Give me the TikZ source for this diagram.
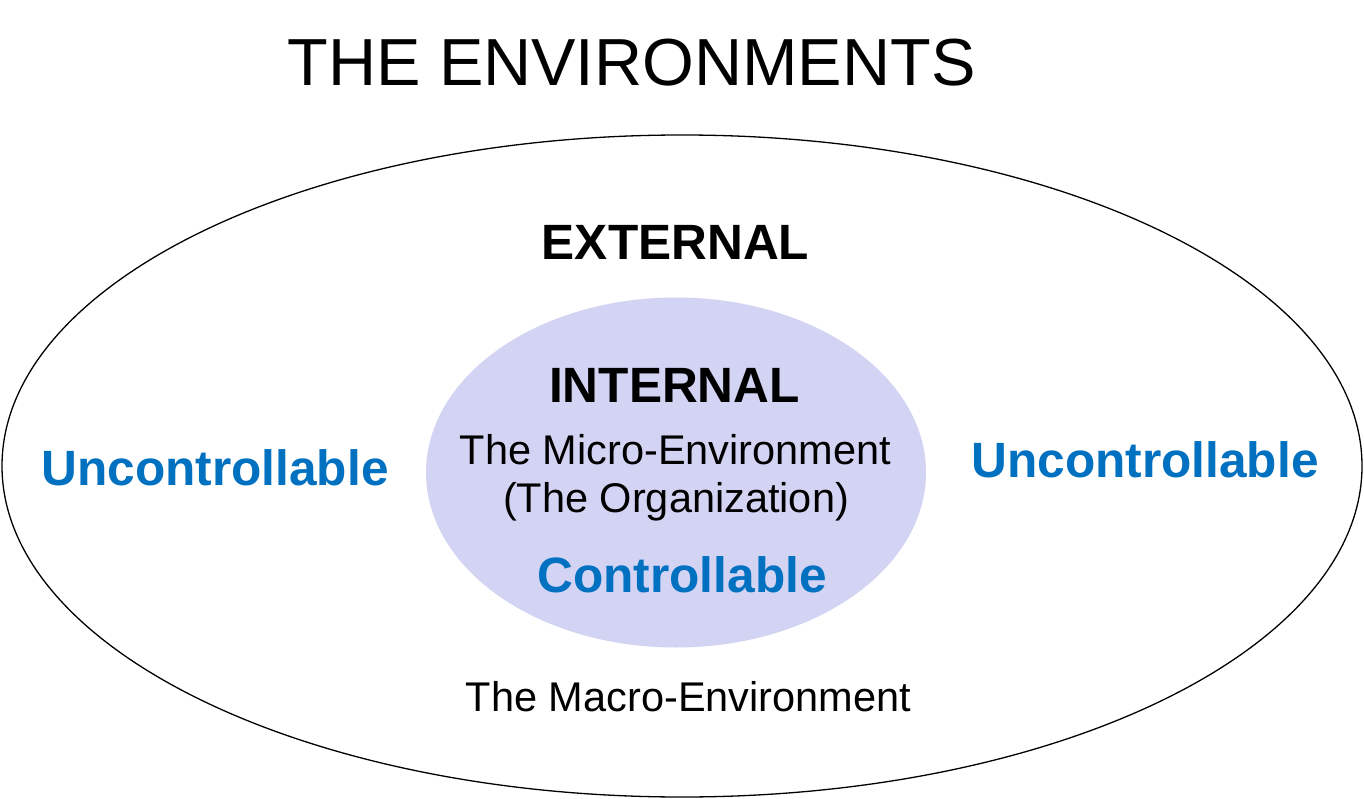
\documentclass[tikz,border=0pt]{standalone}
\usepackage{fontspec}
\setmainfont{Liberation Sans}
\definecolor{lav}{RGB}{211,211,243}
\definecolor{ublue}{RGB}{0,112,192}
\begin{document}
\begin{tikzpicture}[x=1pt,y=-1pt,
  txt/.style={inner sep=0pt,anchor=base},
  big/.style={txt,font=\fontsize{49.6}{55}\selectfont\bfseries},
  med/.style={txt,font=\fontsize{41.5}{48}\selectfont},
  ctl/.style={big,text=ublue}]
\useasboundingbox (0,0) rectangle (1364,799);
\draw[line width=1.3pt] (682,466) ellipse [x radius=680, y radius=331];
\fill[lav] (676,472.5) ellipse [x radius=250, y radius=175];
\node[txt,font=\fontsize{66.6}{75}\selectfont] (title) at (631.5,85.7) {THE ENVIRONMENTS};
\node[big] (ext) at (675.5,260) {EXTERNAL};
\node[big] (int) at (674.5,402.7) {INTERNAL};
\node[med] (micro) at (675.5,464) {The Micro-Environment};
\node[med] (org) at (676,512.7) {(The Organization)};
\node[ctl] (ctl) at (682,592.7) {Controllable};
\node[ctl] (ul) at (215,485.3) {Uncontrollable};
\node[ctl] (ur) at (1145,477.3) {Uncontrollable};
\node[med] (macro) at (688.5,711.7) {The Macro-Environment};
\end{tikzpicture}
\end{document}
